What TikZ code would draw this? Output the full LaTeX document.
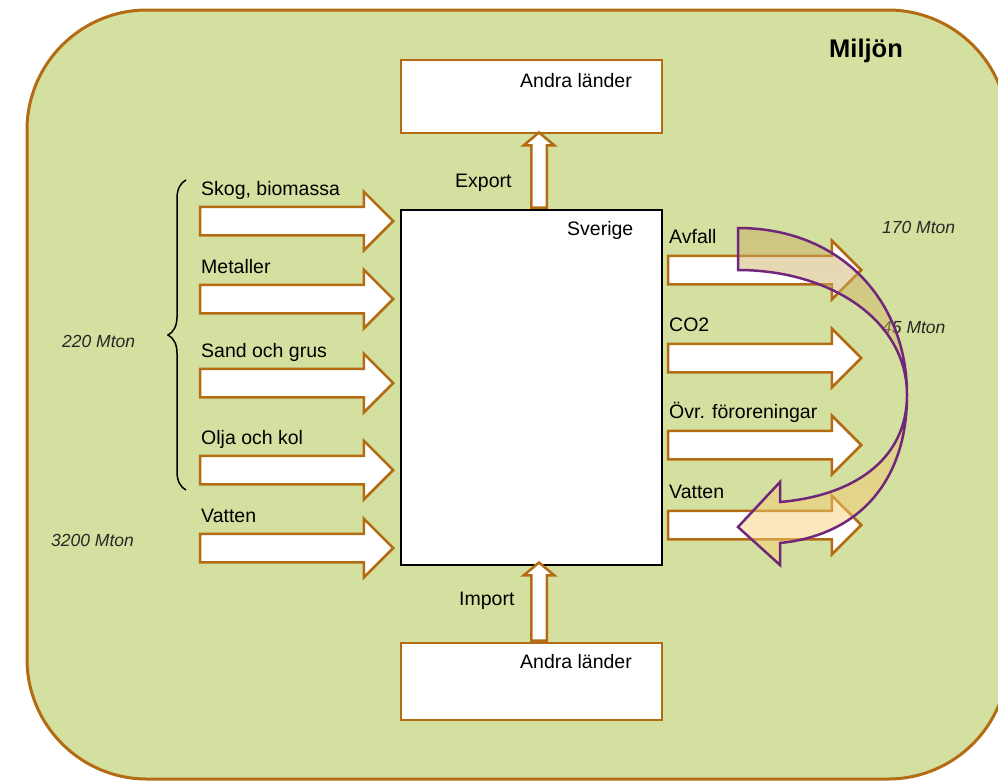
\documentclass[tikz,border=0pt]{standalone}
\usepackage{fontspec}
\setmainfont{Liberation Sans}
\usetikzlibrary{shapes.arrows,decorations.pathreplacing}
\definecolor{miljo}{RGB}{212,224,159}
\definecolor{brun}{RGB}{180,108,20}
\definecolor{lila}{RGB}{112,38,122}
\definecolor{kurvtopp}{RGB}{198,170,100}
\definecolor{kurvbotten}{RGB}{255,211,120}
\definecolor{mtext}{RGB}{40,40,40}

\begin{document}
\begin{tikzpicture}[x=1pt,y=-1pt]
        % Styles
        \tikzstyle{box}=[draw=brun,line width=2.5pt,fill=white,minimum width=261pt,inner sep=0pt]
        \tikzstyle{flow}=[single arrow,draw=brun,line width=2.5pt,fill=white,inner sep=0pt,inner ysep=13pt,single arrow head extend=15pt,single arrow tip angle=90,minimum height=193pt]
        \tikzstyle{upflow}=[single arrow,draw=brun,line width=2.5pt,fill=white,inner sep=0pt,inner ysep=6.5pt,single arrow head extend=7.5pt,single arrow tip angle=100,rotate=90]
        \tikzstyle{lbl}=[font=\fontsize{19.5}{22}\selectfont,inner sep=0pt,anchor=base west]
        \tikzstyle{mton}=[font=\fontsize{17.5}{20}\selectfont\itshape,text=mtext,inner sep=0pt,anchor=base west]
        %The graphic
        \clip (0,0) rectangle (998,780);
        \useasboundingbox (0,0) rectangle (998,780);
        \draw[fill=miljo,draw=brun,line width=3pt,rounded corners=120pt] (27,10) rectangle (1008,779);
        \node[lbl,font=\fontsize{25.5}{28}\selectfont\bfseries] (miljon) at (829,57) {Miljön};
        %boxes
        \node[box,minimum height=73pt] (export land) at (531.5,96.5) {};
        \node[box,draw=black,minimum height=355pt] (sverige) at (531.5,387.5) {};
        \node[box,minimum height=77pt] (import land) at (531.5,681.5) {};
        \node[lbl] (andra1) at (520,87) {Andra länder};
        \node[lbl] (andra2) at (520,668) {Andra länder};
        \node[lbl] (sverige text) at (567,235) {Sverige};
        %export and import
        \node[upflow,anchor=tail,minimum height=75pt] (export) at ([xshift=7.5pt]sverige.north) {};
        \node[upflow,anchor=tail,minimum height=78pt] (import) at ([xshift=7.5pt]import land.north) {};
        \node[lbl] (export text) at (455,187) {Export};
        \node[lbl] (import text) at (459,605) {Import};
        %flows in
        \foreach \y/\name/\txt in {221/skog/{Skog, biomassa},299/metall/Metaller,383/sand/Sand och grus,470/olja/Olja och kol,548/vatten/Vatten}
        {
            \node[flow,anchor=tip] (in \name) at (395,\y) {};
            \node[lbl] (in text \name) at (201,\y-26) {\txt};
        }
        %flows out
        \foreach \y/\name/\txt in {270/avfall/Avfall,358/co/CO2,445/ovr/Övr. föroreningar,525/vatten/Vatten}
        {
            \node[flow,anchor=tip] (ut \name) at (863,\y) {};
            \node[lbl] (ut text \name) at (669,\y-27) {\txt};
        }
        %brace and amounts
        \draw[line width=1.5pt,decorate,decoration={brace,amplitude=18pt,aspect=0.5}] (186,490) -- (186,180);
        \node[mton] (m220) at (62,347) {220 Mton};
        \node[mton] (m3200) at (51,546) {3200 Mton};
        \node[mton] (m170) at (882,233) {170 Mton};
        \node[mton] (m45) at (882,333) {45 Mton};
        %curved arrow back
        \draw[draw=lila,line width=2.5pt,top color=kurvtopp,bottom color=kurvbotten,fill opacity=0.48]
            (738,228) .. controls (840,228) and (907,300) .. (907,395)
            .. controls (907,480) and (860,535) .. (780,543)
            -- (780,565) -- (738,527) -- (780,482) -- (780,502)
            .. controls (860,495) and (907,455) .. (907,395)
            .. controls (907,320) and (830,270) .. (738,270) -- cycle;
\end{tikzpicture}
\end{document}
